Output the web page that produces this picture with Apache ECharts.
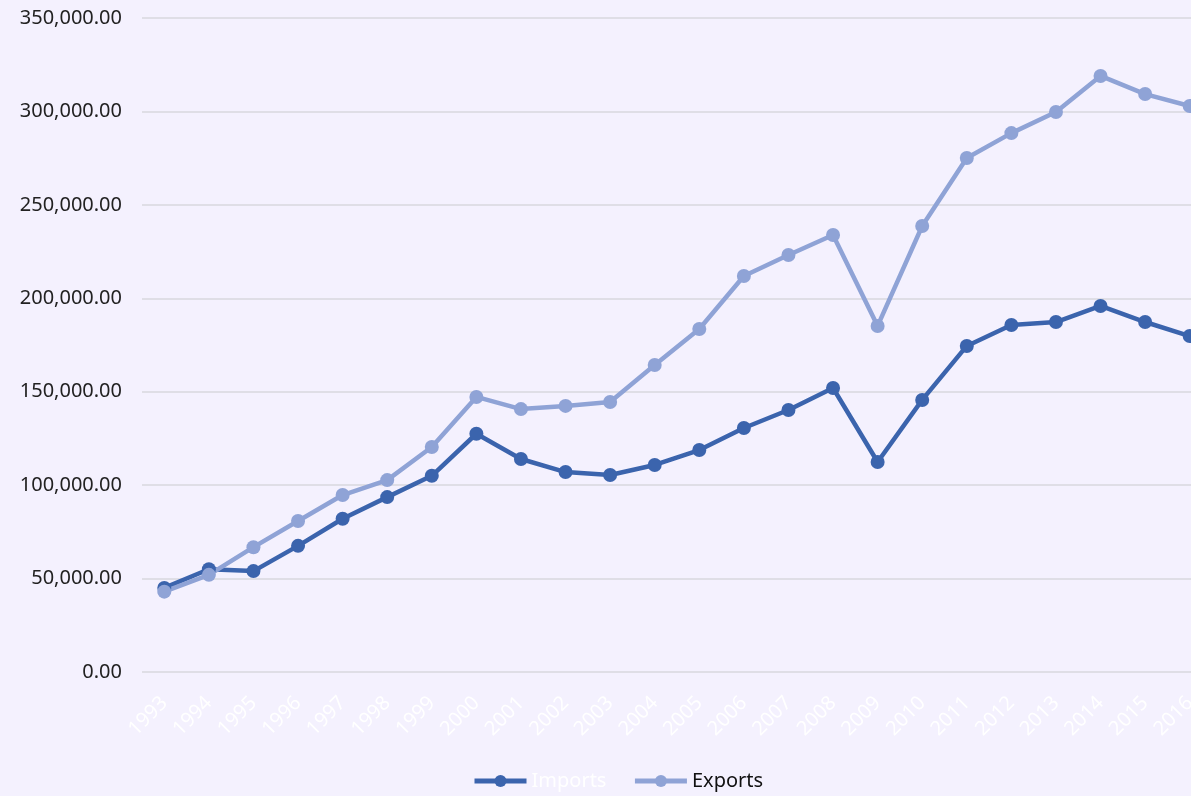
<!DOCTYPE html>
<html>
<head>
<meta charset="utf-8">
<script src="https://cdn.jsdelivr.net/npm/echarts@6/dist/echarts.min.js"></script>
<style>
html,body{margin:0;padding:0;background:#f4f1fe;}
#chart{width:1191px;height:796px;}
</style>
</head>
<body>
<div id="chart"></div>
<script>
const years = ['1993','1994','1995','1996','1997','1998','1999','2000','2001','2002','2003','2004','2005','2006','2007','2008','2009','2010','2011','2012','2013','2014','2015','2016'];
const imports = [45000,55000,54000,67500,82000,93600,105000,127500,114000,107000,105400,110800,118800,130600,140200,152000,112400,145600,174500,185700,187300,195900,187300,179800];
const exports = [43000,52000,66800,80800,94700,102700,120400,147200,140700,142400,144500,164300,183600,211900,223200,233900,185200,238700,275100,288400,299700,319000,309300,302900];

function fmt(v){
  return v.toFixed(2).replace(/\B(?=(\d{3})+(?!\d))/g, ',');
}

const chart = echarts.init(document.getElementById('chart'));
chart.setOption({
  backgroundColor: '#f4f1fe',
  animation: false,
  grid: { left: 142, right: -21, top: 18, bottom: 124, containLabel: false, outerBoundsMode: 'none' },
  legend: {
    top: 766,
    left: 467,
    itemWidth: 52,
    itemHeight: 15,
    itemGap: 26,
    lineStyle: { width: 5 },
    textStyle: { fontFamily: 'Noto Sans', fontSize: 20, color: '#111' },
    data: [
      { name: 'Imports', textStyle: { color: '#ffffff' } },
      { name: 'Exports', textStyle: { color: '#111111' } }
    ]
  },
  xAxis: {
    type: 'category',
    data: years,
    boundaryGap: true,
    axisLine: { show: false },
    axisTick: { show: false },
    axisLabel: { rotate: 45, color: '#ffffff', fontFamily: 'Noto Sans', fontSize: 20, margin: 28, interval: 0, hideOverlap: false }
  },
  yAxis: {
    type: 'value',
    min: 0, max: 350000, interval: 50000,
    axisLine: { show: false },
    axisTick: { show: false },
    splitLine: { lineStyle: { color: '#d9d7de', width: 1.5 } },
    axisLabel: { color: '#222', fontFamily: 'Noto Sans', fontSize: 20, margin: 20, formatter: fmt }
  },
  series: [
    {
      name: 'Imports', type: 'line', data: imports,
      color: '#3b64ad',
      symbol: 'circle', symbolSize: 14,
      lineStyle: { width: 4.5, color: '#3b64ad' },
      itemStyle: { color: '#3b64ad' }
    },
    {
      name: 'Exports', type: 'line', data: exports,
      color: '#8fa3d6',
      symbol: 'circle', symbolSize: 14,
      lineStyle: { width: 4.5, color: '#8fa3d6' },
      itemStyle: { color: '#8fa3d6' }
    }
  ]
});
</script>
</body>
</html>
